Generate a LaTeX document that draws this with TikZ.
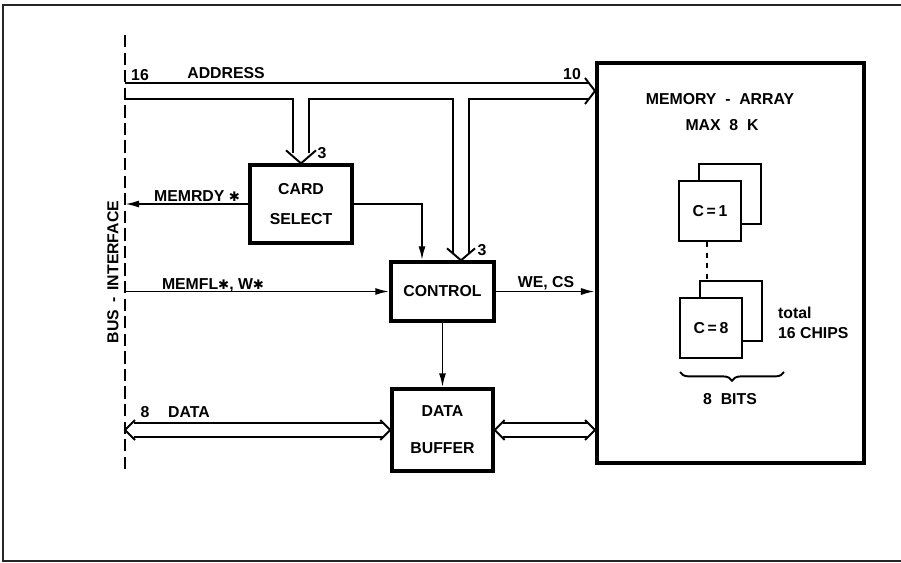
\documentclass[tikz,border=0pt]{standalone}
\usepackage{fontspec}
\setsansfont{Liberation Sans}
\newfontfamily\starfont{DejaVu Sans}
\usetikzlibrary{arrows.meta,positioning,decorations.pathreplacing}
\newcommand{\actlow}{{\starfont\mdseries\fontsize{7.5}{7.5}\selectfont ✱}}
\tikzset{
    tag/.style={
        font=\sffamily\bfseries\fontsize{9}{11}\selectfont,
        inner sep=1pt
    },
    unitblock/.style={
        draw,
        line width=1.9pt,
        minimum width=2.04cm,
        minimum height=1.56cm,
        inner sep=0pt,
        align=center,
        font=\sffamily\bfseries\fontsize{9}{17}\selectfont
    },
    memblock/.style={
        draw,
        line width=2.3pt,
        minimum width=5.34cm,
        minimum height=8cm,
        inner sep=0pt
    },
    chipface/.style={
        draw,
        fill=white,
        line width=1.1pt,
        minimum width=1.24cm,
        minimum height=1.2cm,
        inner sep=0pt,
        font=\sffamily\bfseries\fontsize{9}{11}\selectfont
    },
    sigline/.style={
        -{Latex[length=8pt,width=4pt]},
        line width=1.1pt
    },
    busedge/.style={
        line width=1.1pt
    },
    busrail/.style={
        line width=1.2pt,
        dash pattern=on 7pt off 3pt
    },
    frameline/.style={
        draw=black!85,
        line width=1.1pt
    }
}
\begin{document}
\begin{tikzpicture}[x=0.02cm,y=-0.02cm]
    \useasboundingbox (0,0) rectangle (901,562);
    \draw[frameline] (905,5) -- (3,5) -- (3,561) -- (905,561);

    % bus interface
    \coordinate (railtop) at (125,35);
    \coordinate (railbot) at (125,470);
    \draw[busrail] (railtop) -- (railbot);
    \node[tag,rotate=90] (busname) at (113,272) {BUS \,-\, INTERFACE};

    % blocks
    \node[unitblock] (card) at (301,204) {CARD\\SELECT};
    \node[unitblock,minimum width=2.06cm,minimum height=1.18cm] (ctrl)
        at (442.5,291.5) {CONTROL};
    \node[unitblock,minimum width=2.02cm,minimum height=1.64cm] (buf)
        at (442.5,430) {DATA\\[4pt]BUFFER};
    \node[memblock] (mem) at (730.5,263) {};
    \node[tag] (memtitle) at (720,99) {MEMORY\ \ -\ \ ARRAY};
    \node[tag] (memsize) at (722,125) {MAX\ \ 8\ \ K};

    % chips
    \node[chipface] (c1b) at (730,194) {};
    \node[chipface] (c1) at (710,211) {C\,=\,1};
    \node[chipface] (c8b) at (731,311) {};
    \node[chipface] (c8) at (711,328) {C\,=\,8};
    \draw[busedge,dashed] (c1.south -| 707,0) -- (c8b.north -| 707,0);
    \node[tag,anchor=west] (total) at (776,313) {total};
    \node[tag,anchor=west] (chips) at (776,333) {16 CHIPS};
    \draw[busedge,decorate,decoration={brace,mirror,amplitude=5pt}]
        (680,372) -- (784,372);
    \node[tag] (bits) at (730,399) {8\ \ BITS};

    % address bus
    \draw[busedge] (railtop |- 0,83) -- (589,83);
    \draw[busedge] (railtop |- 0,99) -- (293,99) -- (293,153);
    \draw[busedge] (309,153) -- (309,99) -- (453,99) -- (453,254);
    \draw[busedge] (469,254) -- (469,99) -- (589,99);
    \draw[busedge] (mem.west |- 0,91) ++(-10,-13) -- (mem.west |- 0,91)
        -- ++(-10,13);
    \draw[busedge] (card.north) ++(-15,-13) -- (card.north) -- ++(15,-13);
    \draw[busedge] (ctrl.north -| 461,0) ++(-14,-12) -- (ctrl.north -| 461,0)
        -- ++(14,-12);
    \node[tag] (w16) at (140,75) {16};
    \node[tag] (addr) at (226,73) {ADDRESS};
    \node[tag] (w10) at (572,74) {10};
    \node[tag] (w3card) at (322,153) {3};
    \node[tag] (w3ctrl) at (482,250) {3};

    % data bus
    \draw[busedge] (134,423) -- (384,423);
    \draw[busedge] (134,437) -- (384,437);
    \draw[busedge] (railbot |- buf.west) ++(10,-10) -- (railbot |- buf.west)
        -- ++(10,10);
    \draw[busedge] (buf.west) ++(-10,-10) -- (buf.west) -- ++(-10,10);
    \draw[busedge] (503,423) -- (588,423);
    \draw[busedge] (503,437) -- (588,437);
    \draw[busedge] (buf.east) ++(10,-10) -- (buf.east) -- ++(10,10);
    \draw[busedge] (buf.east -| mem.west) ++(-10,-10) -- (buf.east -| mem.west)
        -- ++(-10,10);
    \node[tag] (w8) at (145,412) {8};
    \node[tag] (dat) at (189,412) {DATA};

    % control lines
    \draw[sigline] (card.west) -- (card.west -| railtop);
    \draw[sigline] (railtop |- ctrl.west) -- (ctrl.west);
    \draw[sigline] (ctrl.east) -- (ctrl.east -| mem.west);
    \draw[sigline] (card.east) -| ([xshift=-0.41cm]ctrl.north);
    \draw[sigline] (ctrl.south) -- (buf.north);
    \node[tag] (rdy) at (197,196) {MEMRDY \actlow};
    \node[tag] (fl) at (213,285) {MEMFL\actlow, W\actlow};
    \node[tag] (wecs) at (546,283) {WE, CS};
\end{tikzpicture}
\end{document}
